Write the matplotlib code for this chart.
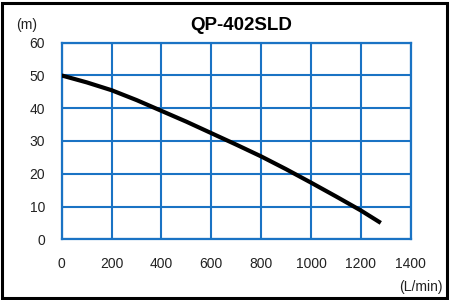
import matplotlib
matplotlib.use("Agg")
import matplotlib.pyplot as plt
from matplotlib.patches import Rectangle

flow = [0, 100, 200, 300, 400, 500, 600, 700, 800, 900, 1000, 1100, 1200, 1280]
head = [50, 47.9, 45.5, 42.5, 39.2, 35.9, 32.4, 28.9, 25.3, 21.4, 17.3, 13.1, 8.8, 5.0]
xticks = [0, 200, 400, 600, 800, 1000, 1200, 1400]
yticks = [0, 10, 20, 30, 40, 50, 60]
title = "QP-402SLD"

plt.rcParams['font.family'] = ['Liberation Sans', 'DejaVu Sans']
fig = plt.figure(figsize=(4.5, 3.0), dpi=100)
W, H = 450, 300
ax = fig.add_axes([61.7 / W, 1 - 239.3 / H, (410.7 - 61.7) / W, (239.3 - 42.7) / H])
blue = '#1a73c4'
ax.set_xlim(0, 1400)
ax.set_ylim(0, 60)
ax.set_xticks(xticks)
ax.set_yticks(yticks)
ax.grid(True, color=blue, linewidth=1.5)
for s in ax.spines.values():
    s.set_color(blue)
    s.set_linewidth(1.6)
ax.tick_params(length=0, labelsize=10, colors='#222222')
ax.tick_params(axis='x', pad=13)
ax.tick_params(axis='y', pad=12)
ax.plot(flow, head, color='black', linewidth=3.0, solid_capstyle='butt', zorder=3)
ax.set_axisbelow(False)

fig.text(241 / W, 1 - 25 / H, title, ha='center', va='center', fontsize=13.5, fontweight='bold')
fig.text(16 / W, 1 - 25 / H, '(m)', ha='left', va='center', fontsize=10, color='#222222')
fig.text(443 / W, 1 - 287 / H, '(L/min)', ha='right', va='center', fontsize=10, color='#222222')
fig.patches.append(Rectangle((2 / W, 2 / H), 1 - 5 / W, 1 - 5 / H, transform=fig.transFigure,
                             fill=False, edgecolor='black', linewidth=2.2))
fig.savefig('out.png', dpi=100)
